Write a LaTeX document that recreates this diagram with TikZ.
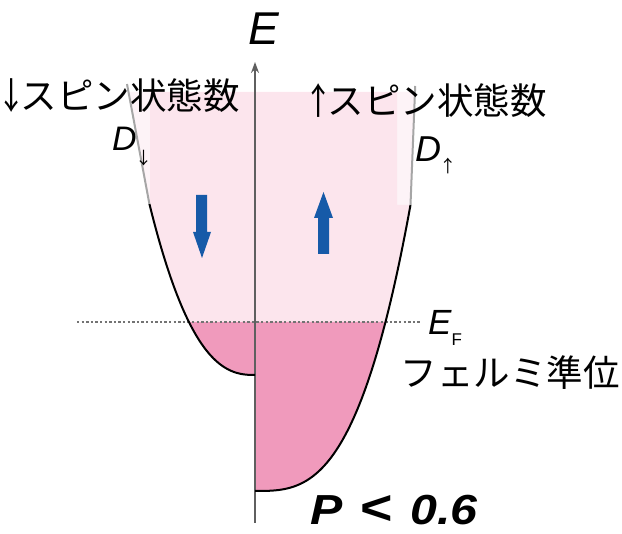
\documentclass[tikz,border=0pt]{standalone}
\usepackage{fontspec}
\setmainfont{Liberation Sans}
\newfontfamily\jp{Noto Sans CJK JP}
\usetikzlibrary{arrows.meta}
\definecolor{lpink}{RGB}{252,229,237}
\definecolor{vlpink}{RGB}{253,243,247}
\definecolor{dpink}{RGB}{240,154,188}
\definecolor{sblue}{RGB}{22,90,168}
\definecolor{axgray}{RGB}{95,95,95}
\tikzset{
  jplabel/.style={inner sep=0pt, font=\jp\fontsize{36.5}{40}\selectfont},
  curveline/.style={line width=2pt, black},
  grayline/.style={line width=2pt, color=black!35},
  efline/.style={line width=1.3pt, color=black!55, dash pattern=on 2.4pt off 2.2pt},
  axisline/.style={line width=1.5pt, color=axgray, -{Stealth[length=11pt,width=8pt]}},
  spinarrow/.style={fill=sblue},
}
\begin{document}
\begin{tikzpicture}[x=1pt,y=-1pt]
\useasboundingbox (0,0) rectangle (622,534);
% ---- fills: left (down spin)
\fill[vlpink] (128.3,92) -- (150,92) -- (150,204) -- (149.4,204) -- cycle;
\fill[lpink] (255,92) -- (150,92) -- (150,204)
  -- plot[domain=7.82:4.894, samples=40] ({255-13.5*\x},{375-\x*\x*sqrt(\x)})
  -- (255,322) -- cycle;
\fill[dpink] (255,322)
  -- plot[domain=4.894:0, samples=50] ({255-13.5*\x},{375-\x*\x*sqrt(\x)}) -- cycle;
% ---- fills: right (up spin)
\fill[vlpink] (397,92) -- (414.8,92) -- (410.5,205) -- (397,205) -- cycle;
\fill[lpink] (255,92) -- (397,92) -- (397,205)
  -- plot[domain=6.59:5.529, samples=30] ({255+23.6*\x},{491-\x*\x*\x})
  -- (255,322) -- cycle;
\fill[dpink] (255,322)
  -- plot[domain=5.529:0, samples=60] ({255+23.6*\x},{491-\x*\x*\x}) -- cycle;
% ---- Fermi level
\coordinate (efl) at (77,322);
\coordinate (efr) at (420,322);
\draw[efline] (efl) -- (efr);
% ---- axis
\coordinate (axbot) at (255,523);
\coordinate (axtop) at (255,62);
\draw[axisline] (axbot) -- (axtop);
% ---- DOS curves
\draw[curveline] plot[domain=0:7.82, samples=80] ({255-13.5*\x},{375-\x*\x*sqrt(\x)});
\draw[grayline] (149.4,204) -- (127,84);
\draw[curveline] plot[domain=0:6.59, samples=80] ({255+23.6*\x},{491-\x*\x*\x});
\draw[grayline] (410.5,205) -- (415.2,86);
% ---- spin arrows
\fill[spinarrow] (196,195) -- (207,195) -- (207,232) -- (211,232) -- (202,258) -- (193,232) -- (196,232) -- cycle;
\fill[spinarrow] (318,254) -- (329,254) -- (329,218) -- (333,218) -- (323.5,192) -- (314,218) -- (318,218) -- cycle;
% ---- labels
\node[inner sep=0pt, font=\fontsize{46}{48}\selectfont\itshape] (elab) at (264,28.5) {E};
\node[jplabel] (dnlab) at (121,96) {￬スピン状態数};
\node[jplabel] (uplab) at (428,101) {￪スピン状態数};
\node[inner sep=0pt, anchor=base west, font=\fontsize{34}{36}\selectfont\itshape] (ddn) at (112,151)
  {D\hspace{-0.05em}\raisebox{-0.4em}{\jp\fontsize{17}{17}\selectfont\upshape ↓}};
\node[inner sep=0pt, anchor=base west, font=\fontsize{36}{38}\selectfont\itshape] (dup) at (415,162)
  {D\hspace{-0.05em}\raisebox{-0.3em}{\jp\fontsize{17}{17}\selectfont\upshape ↑}};
\node[inner sep=0pt, anchor=base west, font=\fontsize{35}{37}\selectfont\itshape] (eflab) at (428,335)
  {E\raisebox{-0.3em}{\fontsize{17}{17}\selectfont\upshape F}};
\node[jplabel] (fermi) at (510,373) {フェルミ準位};
\node[inner sep=0pt, anchor=base west, font=\fontsize{42}{44}\selectfont\bfseries\itshape] (pol) at (310,525)
  {\scalebox{1.15}[1]{P\hspace{0.36em}\scalebox{1.15}{<}\hspace{0.38em}0.6}};
\end{tikzpicture}
\end{document}
